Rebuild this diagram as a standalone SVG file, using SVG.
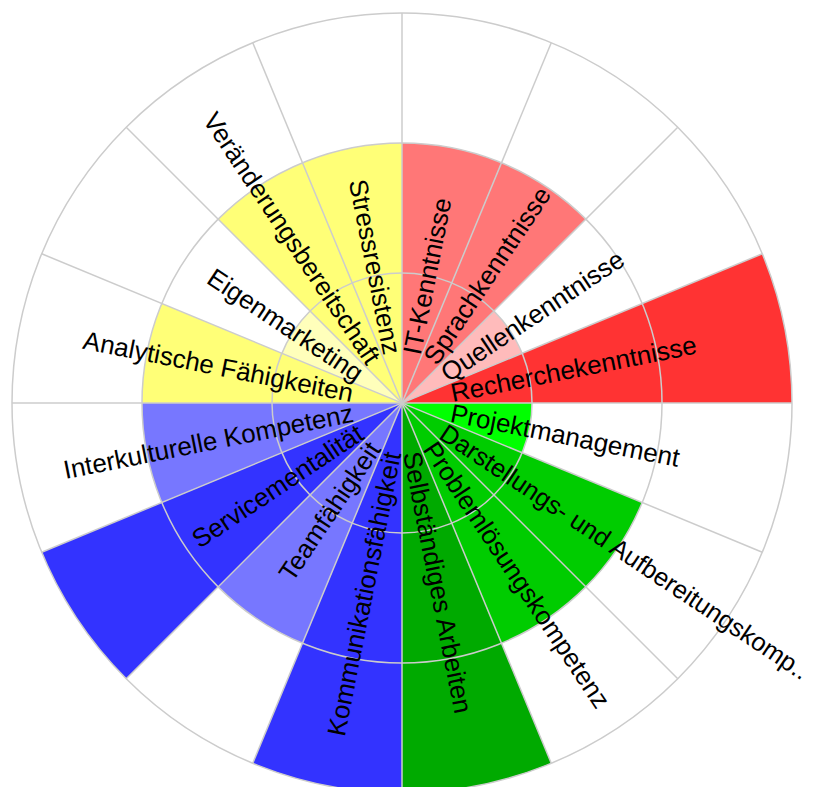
<svg xmlns="http://www.w3.org/2000/svg" width="819" height="787" viewBox="0 0 819 787">
<style>
.lbl{font-family:"Liberation Sans",Arial,sans-serif;font-size:26px;fill:#000;dominant-baseline:central}
.grid{fill:none;stroke:#cccccc;stroke-width:1.5}
</style>
<rect width="819" height="787" fill="#ffffff"/>
<g id="sectors">
<g id="s1"><path d="M402,403 L402,143 A260,260 0 0,1 501.50,162.79 Z" fill="#ff7777"/></g>
<g id="s2"><path d="M402,403 L501.50,162.79 A260,260 0 0,1 585.85,219.15 Z" fill="#ff7777"/></g>
<g id="s3"><path d="M402,403 L493.92,311.08 A130,130 0 0,1 522.10,353.25 Z" fill="#ffbbbb"/></g>
<g id="s4"><path d="M402,403 L762.31,253.75 A390,390 0 0,1 792,403 Z" fill="#ff3333"/></g>
<g id="s5"><path d="M402,403 L532,403 A130,130 0 0,1 522.10,452.75 Z" fill="#00ff00"/></g>
<g id="s6"><path d="M402,403 L642.21,502.50 A260,260 0 0,1 585.85,586.85 Z" fill="#00cc00"/></g>
<g id="s7"><path d="M402,403 L585.85,586.85 A260,260 0 0,1 501.50,643.21 Z" fill="#00cc00"/></g>
<g id="s8"><path d="M402,403 L551.25,763.31 A390,390 0 0,1 402,793 Z" fill="#00aa00"/></g>
<g id="s9"><path d="M402,403 L402,793 A390,390 0 0,1 252.75,763.31 Z" fill="#3333ff"/></g>
<g id="s10"><path d="M402,403 L302.50,643.21 A260,260 0 0,1 218.15,586.85 Z" fill="#7777ff"/></g>
<g id="s11"><path d="M402,403 L126.23,678.77 A390,390 0 0,1 41.69,552.25 Z" fill="#3333ff"/></g>
<g id="s12"><path d="M402,403 L161.79,502.50 A260,260 0 0,1 142,403 Z" fill="#7777ff"/></g>
<g id="s13"><path d="M402,403 L142,403 A260,260 0 0,1 161.79,303.50 Z" fill="#ffff77"/></g>
<g id="s14"><path d="M402,403 L281.90,353.25 A130,130 0 0,1 310.08,311.08 Z" fill="#ffffbb"/></g>
<g id="s15"><path d="M402,403 L218.15,219.15 A260,260 0 0,1 302.50,162.79 Z" fill="#ffff77"/></g>
<g id="s16"><path d="M402,403 L302.50,162.79 A260,260 0 0,1 402,143 Z" fill="#ffff77"/></g>
</g>
<g id="connectors" class="grid">
<circle cx="402" cy="403" r="130"/>
<circle cx="402" cy="403" r="260"/>
<circle cx="402" cy="403" r="390"/>
<line x1="402" y1="13" x2="402" y2="793"/>
<line x1="12" y1="403" x2="792" y2="403"/>
<line x1="551.25" y1="42.69" x2="252.75" y2="763.31"/>
<line x1="677.77" y1="127.23" x2="126.23" y2="678.77"/>
<line x1="762.31" y1="253.75" x2="41.69" y2="552.25"/>
<line x1="762.31" y1="552.25" x2="41.69" y2="253.75"/>
<line x1="677.77" y1="678.77" x2="126.23" y2="127.23"/>
<line x1="551.25" y1="763.31" x2="252.75" y2="42.69"/>
</g>
<g id="labels">
<g id="l1" transform="translate(402,403) rotate(-78.75)"><text class="lbl" x="50" y="0">IT-Kenntnisse</text></g>
<g id="l2" transform="translate(402,403) rotate(-56.25)"><text class="lbl" x="50" y="0">Sprachkenntnisse</text></g>
<g id="l3" transform="translate(402,403) rotate(-33.75)"><text class="lbl" x="50" y="0">Quellenkenntnisse</text></g>
<g id="l4" transform="translate(402,403) rotate(-11.25)"><text class="lbl" x="50" y="0">Recherchekenntnisse</text></g>
<g id="l5" transform="translate(402,403) rotate(11.25)"><text class="lbl" x="50" y="0">Projektmanagement</text></g>
<g id="l6" transform="translate(402,403) rotate(33.75)"><text class="lbl" x="49" y="0" style="font-size:25.4px">Darstellungs- und Aufbereitungskomp..</text></g>
<g id="l7" transform="translate(402,403) rotate(56.25)"><text class="lbl" x="50" y="0">Problemlösungskompetenz</text></g>
<g id="l8" transform="translate(402,403) rotate(78.75)"><text class="lbl" x="50" y="0">Selbständiges Arbeiten</text></g>
<g id="l9" transform="translate(402,403) rotate(-78.75)"><text class="lbl" x="-50" y="0" text-anchor="end">Kommunikationsfähigkeit</text></g>
<g id="l10" transform="translate(402,403) rotate(-56.25)"><text class="lbl" x="-50" y="0" text-anchor="end">Teamfähigkeit</text></g>
<g id="l11" transform="translate(402,403) rotate(-33.75)"><text class="lbl" x="-50" y="0" text-anchor="end">Servicementalität</text></g>
<g id="l12" transform="translate(402,403) rotate(-11.25)"><text class="lbl" x="-50" y="0" text-anchor="end">Interkulturelle Kompetenz</text></g>
<g id="l13" transform="translate(402,403) rotate(11.25)"><text class="lbl" x="-50" y="0" text-anchor="end">Analytische Fähigkeiten</text></g>
<g id="l14" transform="translate(402,403) rotate(33.75)"><text class="lbl" x="-50" y="0" text-anchor="end">Eigenmarketing</text></g>
<g id="l15" transform="translate(402,403) rotate(56.25)"><text class="lbl" x="-50" y="0" text-anchor="end">Veränderungsbereitschaft</text></g>
<g id="l16" transform="translate(402,403) rotate(78.75)"><text class="lbl" x="-50" y="0" text-anchor="end">Stressresistenz</text></g>
</g>
</svg>
